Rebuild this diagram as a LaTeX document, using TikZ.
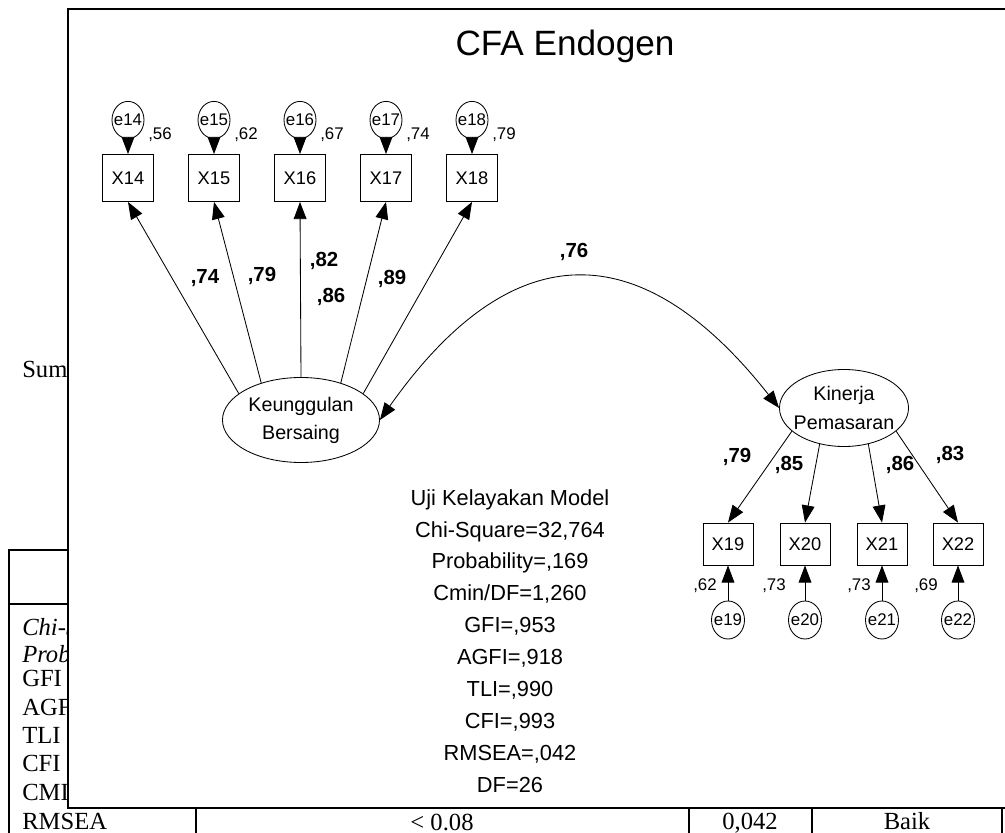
\documentclass[tikz,border=0pt]{standalone}
\usepackage{fontspec}
\setmainfont{Liberation Sans}
\newfontfamily\tabfont{Liberation Serif}
\usetikzlibrary{positioning,arrows.meta,shapes.geometric}

\begin{document}
\begin{tikzpicture}[x=0.025cm,y=-0.025cm,
 ind/.style={draw,line width=0.6pt,minimum width=12.75mm,minimum height=11.75mm,inner sep=0pt,font=\fontsize{13}{14}\selectfont},
 indb/.style={ind,minimum width=12.5mm,minimum height=10.5mm},
 err/.style={ellipse,draw,line width=0.6pt,minimum width=8mm,minimum height=9.3mm,inner xsep=-2.5pt,inner ysep=0pt,font=\fontsize{12}{13}\selectfont},
 lat/.style={ellipse,draw,line width=0.6pt,inner xsep=-4pt,inner ysep=0pt,align=center,font=\fontsize{14}{20}\selectfont},
 load/.style={-{Triangle[length=4.3mm,width=3.2mm]},line width=0.6pt},
 cov/.style={{Triangle[length=4.3mm,width=3.2mm]}-{Triangle[length=4.3mm,width=3.2mm]},line width=0.6pt},
 coef/.style={font=\fontsize{14.5}{16}\selectfont\bfseries},
 var/.style={font=\fontsize{12}{13}\selectfont},
 tab/.style={anchor=base west,inner sep=0pt,font=\tabfont\fontsize{17.5}{20}\selectfont},
 tabc/.style={tab,anchor=base},
 tabline/.style={line width=0.9pt}
]
\useasboundingbox (0,0) rectangle (1005,833);

\begin{scope}
\clip (0,0) rectangle (68,833);
\node[tab] (sum) at (22,377) {Sum};
\node[tab] (t1) at (22,635) {\itshape Chi-Square};
\node[tab] (t2) at (22,662) {\itshape Probability};
\node[tab] (t3) at (22,686) {GFI};
\node[tab] (t4) at (22,715) {AGFI};
\node[tab] (t5) at (22,743) {TLI};
\node[tab] (t6) at (22,771) {CFI};
\node[tab] (t7) at (22,800) {CMIN/DF};
\end{scope}
\draw[tabline] (9,833) -- (9,550) -- (80,550);
\draw[tabline] (9,604) -- (80,604);
\foreach \xx in {196,689,812,1002}
 \draw[tabline] (\xx,808) -- (\xx,833);
\node[tab] (t8) at (22,829) {RMSEA};
\node[tabc] (lim) at (442,830) {< 0.08};
\node[tabc] (val) at (750,829) {0,042};
\node[tabc] (ket) at (907,829) {Baik};

\draw[line width=1.4pt,fill=white] (68,9) rectangle (1015,808);

\node[font=\fontsize{25}{28}\selectfont] (title) at (565,46) {CFA Endogen};

\node[lat,minimum width=3.925cm,minimum height=2.125cm] (kb) at (301,420) {Keunggulan\\Bersaing};
\node[lat,minimum width=3.225cm,minimum height=1.925cm] (kp) at (844,408) {Kinerja\\Pemasaran};

\foreach \i/\x/\r in {14/128/56,15/214/62,16/300/67,17/386/74,18/472/79}{
 \node[ind] (x\i) at (\x,178) {X\i};
 \node[err] (e\i) at (\x,120) {e\i};
 \node[var] (r\i) at (\x+32,135) {,\r};
 \draw[load] (e\i) -- (x\i);
}
\foreach \a/\b in {157/x14,137/x15,90/x16,43/x17,23/x18}
 \draw[load] (kb.\a) -- (\b.south);

\node[coef] (c14) at (205,278) {,74};
\node[coef] (c15) at (262,276) {,79};
\node[coef] (c16) at (324,261) {,82};
\node[coef] (c17) at (331,297) {,86};
\node[coef] (c18) at (392,279) {,89};

\draw[cov] (kb.east) .. controls (512,233) and (641,233) .. (kp.west);
\node[coef] (c76) at (574,252) {,76};

\foreach \i/\x/\a/\r/\rx in {19/728/204/62/705,20/805/236/73/774,21/882/304/73/859,22/958/336/69/926}{
 \node[indb] (x\i) at (\x,544) {X\i};
 \node[err,minimum width=8.25mm,minimum height=9.5mm] (e\i) at (\x,620) {e\i};
 \node[var] (r\i) at (\rx,586) {,\r};
 \draw[load] (e\i) -- (x\i);
 \draw[load] (kp.\a) -- (x\i.north);
}
\node[coef] (c19) at (737,457) {,79};
\node[coef] (c20) at (789,465) {,85};
\node[coef] (c21) at (900,465) {,86};
\node[coef] (c22) at (950,455) {,83};

\node[font=\fontsize{15.5}{22.7}\selectfont,align=center] (gof) at (510,641)
 {Uji Kelayakan Model\\Chi-Square=32,764\\Probability=,169\\Cmin/DF=1,260\\GFI=,953\\AGFI=,918\\TLI=,990\\CFI=,993\\RMSEA=,042\\DF=26};
\end{tikzpicture}
\end{document}
